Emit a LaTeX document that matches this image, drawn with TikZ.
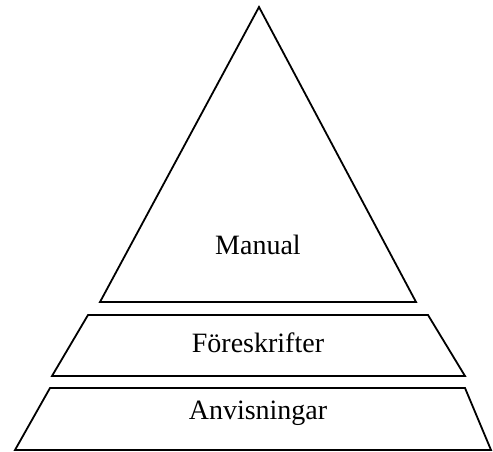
\documentclass[tikz,border=0pt]{standalone}
\usepackage{fontspec}
\setmainfont{Liberation Serif}
\usepackage{tikz}

\begin{document}
\begin{tikzpicture}[x=1pt,y=-1pt,line width=1.8pt,line join=miter]
\useasboundingbox (0,0) rectangle (493,452);
\tikzset{nivå/.style={font=\fontsize{28}{33}\selectfont,inner sep=0pt}}
%Triangel
\draw (259,7)--(416,302)--(100,302)--cycle;
%Trapetser
\draw (88,315)--(428,315)--(465,376)--(52,376)--cycle;
\draw (50,388)--(465,388)--(491,450)--(15,450)--cycle;
%Texter
\node [nivå] (manual) at (258,245) {Manual};
\node [nivå] (foreskrifter) at (258,343) {Föreskrifter};
\node [nivå] (anvisningar) at (258,413) {Anvisningar};
\end{tikzpicture}
\end{document}
